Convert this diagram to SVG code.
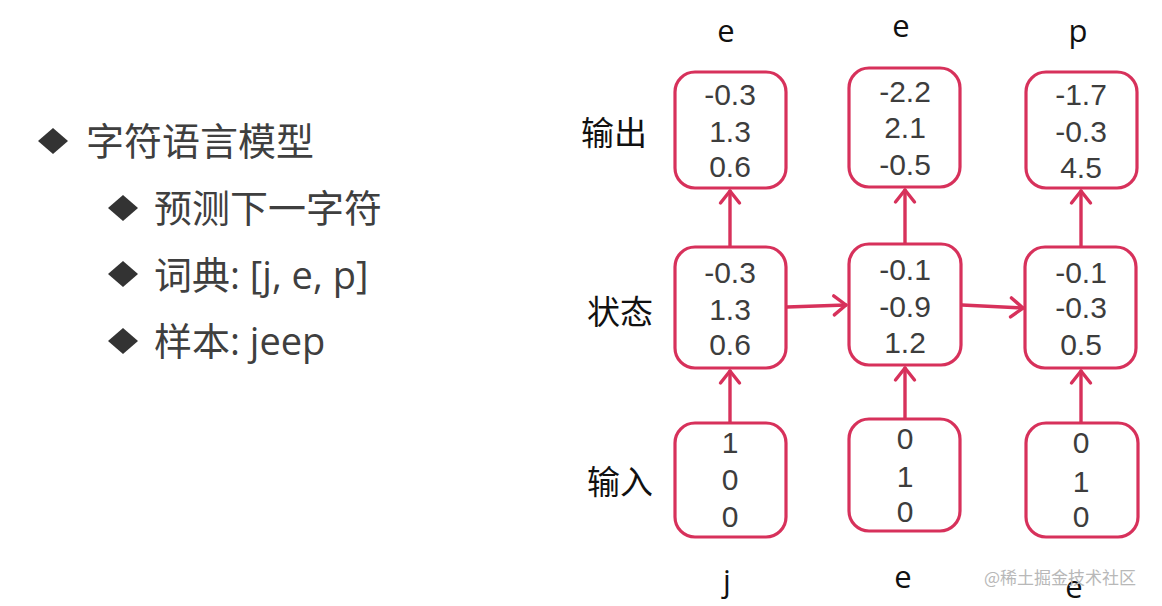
<svg xmlns="http://www.w3.org/2000/svg" width="1162" height="606" viewBox="0 0 1162 606">
<style>
.box{fill:#ffffff;stroke:#d7315b;stroke-width:3.2}
.num{font-family:"Liberation Sans","Noto Sans CJK SC",sans-serif;font-size:30px;fill:#3d3d3d;text-anchor:middle}
.lbl{font-family:"Open Sans","Noto Sans CJK SC",sans-serif;font-size:31px;fill:#111;text-anchor:middle}
.row{font-family:"Noto Sans CJK SC",sans-serif;font-size:33px;fill:#111}
.bul{font-family:"Open Sans","Noto Sans CJK SC",sans-serif;font-size:38px;fill:#3f3f3f}
.dia{fill:#333}
.conn line{stroke:#d7315b;stroke-width:3.4;stroke-linecap:round;marker-end:url(#arr)}
.wm{font-family:"Noto Sans CJK SC",sans-serif;font-size:17px;fill:#b8b8b8}
</style>
<defs>
<marker id="arr" markerUnits="userSpaceOnUse" markerWidth="20" markerHeight="26" viewBox="-15 -13 17 26" refX="0" refY="0" orient="auto">
<path d="M-12,-9.5 L0,0 L-12,9.5" fill="none" stroke="#d7315b" stroke-width="3.4" stroke-linecap="round" stroke-linejoin="round"/>
</marker>
</defs>
<rect width="1162" height="606" fill="#ffffff"/>

<g id="bullets">
<path class="dia" d="M53,128 L68,141 L53,154 L38,141 Z"/>
<text class="bul" x="86" y="155">字符语言模型</text>
<path class="dia" d="M123,195 L138,208 L123,221 L108,208 Z"/>
<text class="bul" x="154" y="222">预测下一字符</text>
<path class="dia" d="M123,261 L138,274 L123,287 L108,274 Z"/>
<text class="bul" x="154" y="289">词典: [j, e, p]</text>
<path class="dia" d="M123,328 L138,341 L123,354 L108,341 Z"/>
<text class="bul" x="154" y="355">样本: jeep</text>
</g>

<g id="row-labels">
<text class="row" x="581" y="145">输出</text>
<text class="row" x="587" y="324">状态</text>
<text class="row" x="587" y="494">输入</text>
</g>

<g id="top-labels">
<text class="lbl" x="726" y="42">e</text>
<text class="lbl" x="901" y="37">e</text>
<text class="lbl" x="1078" y="42">p</text>
</g>
<g id="bottom-labels">
<text class="lbl" x="727" y="592">j</text>
<text class="lbl" x="903" y="588">e</text>
<text class="lbl" x="1074" y="598">e</text>
</g>

<g id="connectors" class="conn">
<line x1="730" y1="246" x2="730" y2="191"/>
<line x1="730" y1="422" x2="730" y2="371"/>
<line x1="905" y1="243" x2="905" y2="190"/>
<line x1="905" y1="419" x2="905" y2="368"/>
<line x1="1081" y1="246" x2="1081" y2="191"/>
<line x1="1081" y1="422" x2="1081" y2="371"/>
<line x1="787" y1="307" x2="846" y2="305"/>
<line x1="962" y1="305" x2="1023" y2="308"/>
</g>

<g id="out1"><rect class="box" x="675" y="72" width="111" height="116" rx="20"/>
<text class="num" x="730" y="105">-0.3</text><text class="num" x="730" y="142">1.3</text><text class="num" x="730" y="177">0.6</text></g>
<g id="out2"><rect class="box" x="849" y="68" width="111" height="119" rx="20"/>
<text class="num" x="905" y="102">-2.2</text><text class="num" x="905" y="138">2.1</text><text class="num" x="905" y="175">-0.5</text></g>
<g id="out3"><rect class="box" x="1026" y="72" width="111" height="116" rx="20"/>
<text class="num" x="1081" y="105">-1.7</text><text class="num" x="1081" y="142">-0.3</text><text class="num" x="1081" y="178">4.5</text></g>

<g id="state1"><rect class="box" x="675" y="247" width="111" height="121" rx="20"/>
<text class="num" x="730" y="283">-0.3</text><text class="num" x="730" y="320">1.3</text><text class="num" x="730" y="355">0.6</text></g>
<g id="state2"><rect class="box" x="849" y="244" width="112" height="121" rx="20"/>
<text class="num" x="905" y="280">-0.1</text><text class="num" x="905" y="317">-0.9</text><text class="num" x="905" y="353">1.2</text></g>
<g id="state3"><rect class="box" x="1025" y="247" width="111" height="121" rx="20"/>
<text class="num" x="1081" y="283">-0.1</text><text class="num" x="1081" y="318">-0.3</text><text class="num" x="1081" y="355">0.5</text></g>

<g id="in1"><rect class="box" x="675" y="423" width="111" height="114" rx="20"/>
<text class="num" x="730" y="453">1</text><text class="num" x="730" y="490">0</text><text class="num" x="730" y="527">0</text></g>
<g id="in2"><rect class="box" x="849" y="419" width="111" height="112" rx="20"/>
<text class="num" x="905" y="449">0</text><text class="num" x="905" y="487">1</text><text class="num" x="905" y="522">0</text></g>
<g id="in3"><rect class="box" x="1026" y="423" width="112" height="114" rx="20"/>
<text class="num" x="1081" y="453">0</text><text class="num" x="1081" y="492">1</text><text class="num" x="1081" y="527">0</text></g>

<text class="wm" x="984" y="584">@稀土掘金技术社区</text>
</svg>
